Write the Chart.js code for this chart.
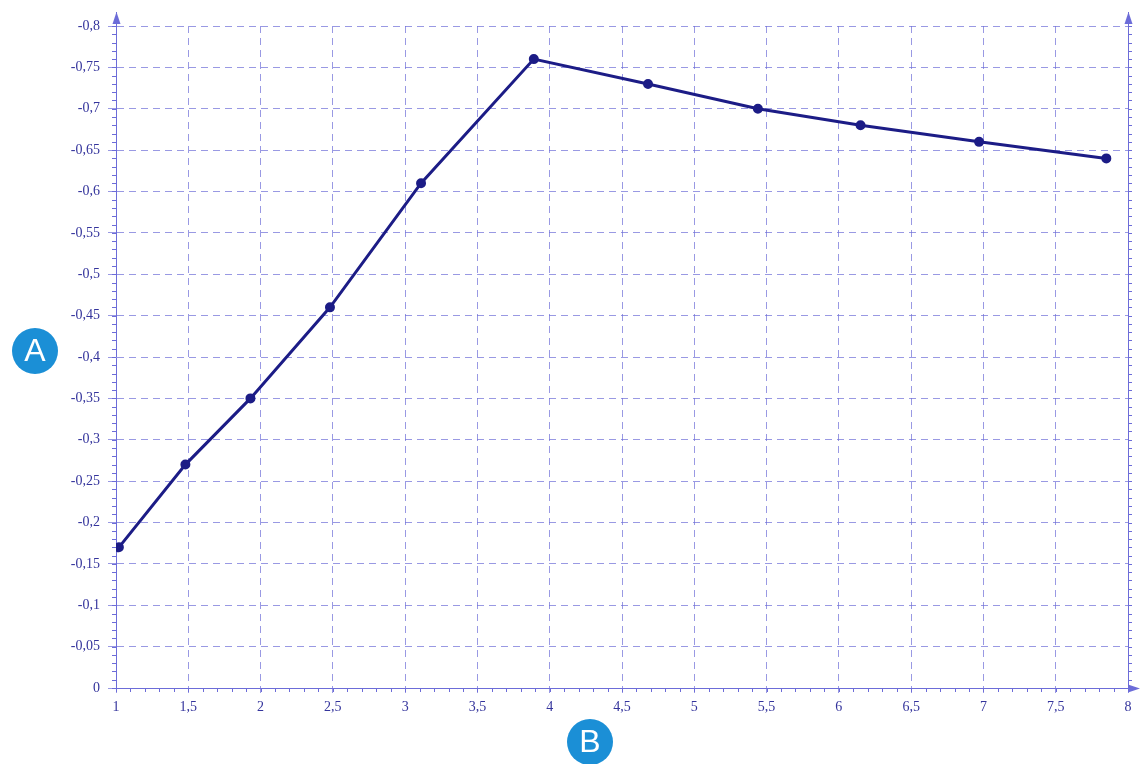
<!DOCTYPE html>
<html>
<head>
<meta charset="utf-8">
<script src="https://cdn.jsdelivr.net/npm/chart.js@4"></script>
<style>
  html, body { margin: 0; padding: 0; background: #fff; }
  #wrap { width: 1141px; height: 764px; position: relative; }
</style>
</head>
<body>
<div id="wrap"><canvas id="chart"></canvas></div>
<script>
// Data
const xValues = [1.02, 1.48, 1.93, 2.48, 3.11, 3.89, 4.68, 5.44, 6.15, 6.97, 7.85];
const yValues = [0.17, 0.27, 0.35, 0.46, 0.61, 0.76, 0.73, 0.70, 0.68, 0.66, 0.64];
const axisLetters = ['A', 'B'];

const gridColor = 'rgba(110, 110, 215, 0.7)';
const axisColor = '#6c6cd8';
const labelColor = '#34349c';
const lineColor = '#1c1c86';

const fmt = v => String(Math.round(v * 100) / 100).replace('.', ',');

// minor ticks, right axis, arrows, letter badges
const decorPlugin = {
  id: 'decor',
  afterDraw(chart) {
    const { ctx, chartArea: a, scales: { x, y } } = chart;
    ctx.save();
    ctx.strokeStyle = axisColor;
    ctx.lineWidth = 1;
    ctx.beginPath();
    // right axis
    ctx.moveTo(a.right + 0.5, a.bottom);
    ctx.lineTo(a.right + 0.5, a.top - 14);
    for (let v = 0; v <= 0.8001; v += 0.01) {
      const py = Math.round(y.getPixelForValue(v)) + 0.5;
      ctx.moveTo(a.left - 4, py); ctx.lineTo(a.left, py);
      ctx.moveTo(a.right, py); ctx.lineTo(a.right + 4, py);
    }
    for (let v = 1; v <= 8.001; v += 0.1) {
      const px = Math.round(x.getPixelForValue(v)) + 0.5;
      ctx.moveTo(px, a.bottom); ctx.lineTo(px, a.bottom + 4);
    }
    // axis extensions
    ctx.moveTo(a.left + 0.5, a.top); ctx.lineTo(a.left + 0.5, a.top - 14);
    ctx.moveTo(a.right, a.bottom + 0.5); ctx.lineTo(a.right + 10, a.bottom + 0.5);
    ctx.stroke();
    // arrows
    ctx.fillStyle = axisColor;
    const up = (cx, ty) => {
      ctx.beginPath();
      ctx.moveTo(cx, ty); ctx.lineTo(cx - 4, ty + 12); ctx.lineTo(cx + 4, ty + 12);
      ctx.closePath(); ctx.fill();
    };
    up(a.left + 0.5, a.top - 14);
    up(a.right + 0.5, a.top - 14);
    ctx.beginPath();
    ctx.moveTo(a.right + 12, a.bottom + 0.5);
    ctx.lineTo(a.right, a.bottom - 3.5);
    ctx.lineTo(a.right, a.bottom + 4.5);
    ctx.closePath(); ctx.fill();
    // letter badges
    const badge = (cx, cy, t) => {
      ctx.fillStyle = '#1b8fd6';
      ctx.beginPath(); ctx.arc(cx, cy, 23, 0, Math.PI * 2); ctx.fill();
      ctx.fillStyle = '#fff';
      ctx.font = '32px "Liberation Sans", Arial, sans-serif';
      ctx.textAlign = 'center'; ctx.textBaseline = 'middle';
      ctx.fillText(t, cx, cy + 1);
    };
    badge(35, 351, axisLetters[0]);
    badge(590, 742, axisLetters[1]);
    ctx.restore();
  }
};

new Chart(document.getElementById('chart'), {
  type: 'scatter',
  data: {
    datasets: [{
      data: xValues.map((v, i) => ({ x: v, y: yValues[i] })),
      showLine: true,
      borderColor: lineColor,
      backgroundColor: lineColor,
      borderWidth: 3,
      pointRadius: 3.5,
      pointHoverRadius: 3.5,
    }]
  },
  options: {
    responsive: true,
    maintainAspectRatio: false,
    animation: false,
    layout: { padding: { top: 26, right: 13, left: 0, bottom: 0 } },
    plugins: { legend: { display: false }, tooltip: { enabled: false } },
    scales: {
      x: {
        type: 'linear',
        min: 1, max: 8,
        afterFit: s => { s.height = 76; s.paddingRight = 0; s.paddingLeft = 0; },
        grid: {
          color: gridColor,
          tickColor: gridColor,
          tickLength: 5,
          lineWidth: 1,
        },
        border: { color: axisColor, dash: [7, 5] },
        ticks: {
          stepSize: 0.5,
          color: labelColor,
          font: { family: '"Liberation Serif", "DejaVu Serif", serif', size: 14 },
          padding: 6,
          maxRotation: 0,
          callback: v => fmt(v),
        },
      },
      y: {
        min: 0, max: 0.8,
        afterFit: s => { s.width = 116; },
        grid: {
          color: gridColor,
          tickColor: gridColor,
          tickLength: 8,
          lineWidth: 1,
        },
        border: { color: axisColor, dash: [7, 5] },
        ticks: {
          stepSize: 0.05,
          color: labelColor,
          font: { family: '"Liberation Serif", "DejaVu Serif", serif', size: 14 },
          padding: 8,
          callback: v => (v === 0 ? '0' : '-' + fmt(v)),
        },
      }
    }
  },
  plugins: [decorPlugin]
});
</script>
</body>
</html>
